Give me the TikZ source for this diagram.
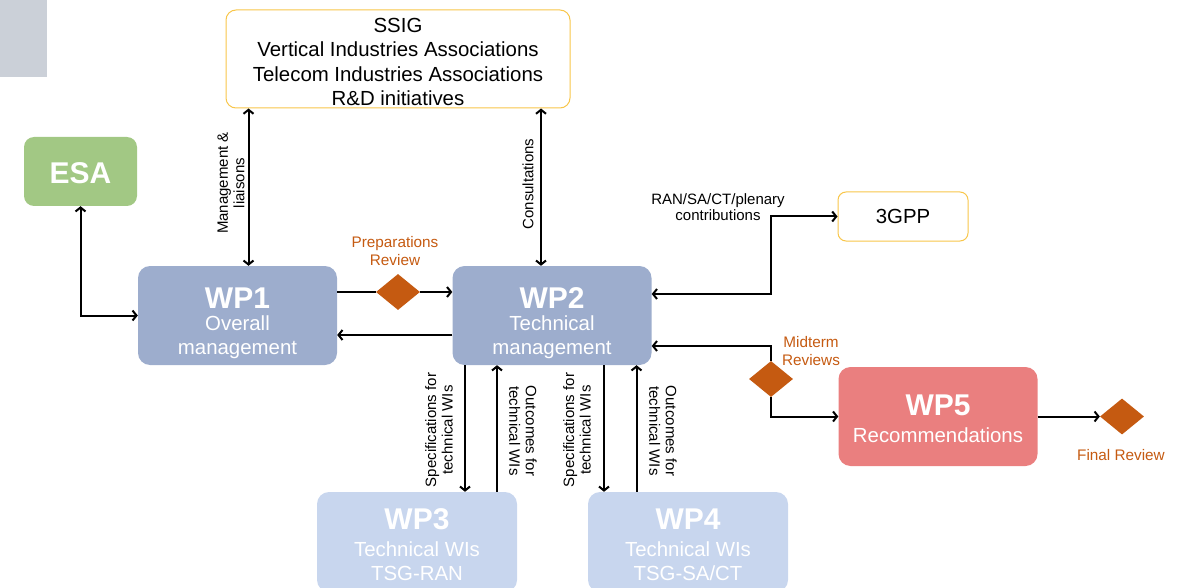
\documentclass[tikz,border=0pt]{standalone}
\usepackage{fontspec}
\setmainfont{Liberation Sans}
\usetikzlibrary{arrows.meta}
\usetikzlibrary{shapes.geometric}
\usetikzlibrary{positioning}
\definecolor{wp-blue}{RGB}{157, 173, 205}
\definecolor{wp-lightblue}{RGB}{200, 214, 238}
\definecolor{esa-green}{RGB}{162, 200, 132}
\definecolor{wp-red}{RGB}{234, 127, 127}
\definecolor{review-orange}{RGB}{197, 90, 17}
\definecolor{frame-yellow}{RGB}{248, 198, 74}
\definecolor{corner-grey}{RGB}{203, 208, 216}
\newcommand{\wpfont}{\fontsize{30}{23}\selectfont\bfseries}
\newcommand{\lift}[1]{\rule{0pt}{#1}}
\tikzset{
  wpbox/.style={rounded corners=12pt, minimum width=199pt, minimum height=99pt,
    inner sep=0pt, align=center, text=white, font=\fontsize{20.4}{24}\selectfont},
  framebox/.style={draw=frame-yellow, line width=1pt, fill=white, rounded corners=10pt,
    inner sep=0pt, align=center, font=\fontsize{20.4}{24.5}\selectfont},
  review/.style={diamond, fill=review-orange, inner sep=0pt, minimum width=44pt, minimum height=36pt},
  reviewlabel/.style={text=review-orange, align=center, font=\fontsize{15.3}{17.5}\selectfont},
  flowlabel/.style={align=center, font=\fontsize{15}{16.5}\selectfont},
  flow/.style={line width=2pt, >={Straight Barb[length=4pt,width=10pt]}}
}
\begin{document}
\begin{tikzpicture}[x=1pt, y=-1pt]
  \useasboundingbox (0, 0) rectangle (1183, 588);
  \fill[corner-grey] (0, 0) rectangle (47, 77);

  % boxes
  \node[framebox, minimum width=344pt, minimum height=98pt] (assoc) at (398, 59)
    {\lift{20pt}SSIG\\Vertical Industries Associations\\Telecom Industries Associations\\R\&D initiatives};
  \node[wpbox, fill=esa-green, minimum width=113pt, minimum height=69pt, rounded corners=10pt] (esa) at (80.5, 171.5) {\lift{25pt}\wpfont ESA};
  \node[wpbox, fill=wp-blue] (wp1) at (237.5, 315.5) {\lift{36.5pt}{\wpfont WP1}\\[-2pt]Overall\\management};
  \node[wpbox, fill=wp-blue] (wp2) at (552, 315.5) {\lift{36.5pt}{\wpfont WP2}\\[-2pt]Technical\\management};
  \node[framebox, minimum width=130pt, minimum height=49pt, rounded corners=8pt] (tgpp) at (903, 216.5) {3GPP};
  \node[wpbox, fill=wp-red] (wp5) at (938, 416.5) {\lift{25.5pt}{\wpfont WP5}\\[3pt]Recommendations};
  \node[wpbox, fill=wp-lightblue, minimum width=200pt, minimum height=100pt] (wp3) at (417, 542) {\lift{25.5pt}{\wpfont WP3}\\[3pt]Technical WIs\\TSG-RAN};
  \node[wpbox, fill=wp-lightblue, minimum width=200pt, minimum height=100pt] (wp4) at (688, 542) {\lift{25.5pt}{\wpfont WP4}\\[3pt]Technical WIs\\TSG-SA/CT};

  % reviews
  \node[review] (prep) at (398, 292) {};
  \node[review] (mid) at (771, 379) {};
  \node[review] (fin) at (1122, 416.5) {};
  \node[reviewlabel] (preplabel) at (395, 251) {Preparations\\Review};
  \node[reviewlabel] (midlabel) at (811, 351) {Midterm\\Reviews};
  \node[reviewlabel] (finlabel) at (1121, 455) {Final Review};

  % connectors
  \draw[flow, <->] (esa.south) |- (wp1.west);
  \draw[flow, <->] ([xshift=11pt]wp1.north) -- ([xshift=11pt]wp1.north |- assoc.south);
  \draw[flow, <->] ([xshift=-11pt]wp2.north) -- ([xshift=-11pt]wp2.north |- assoc.south);
  \draw[flow] (wp1.east |- prep) -- (prep.west);
  \draw[flow, ->] (prep.east) -- (wp2.west |- prep);
  \draw[flow, ->] ([yshift=-19.5pt]wp2.west) -- ([yshift=-19.5pt]wp1.east);
  \draw[flow, <->] (tgpp.west) -- ++(-67, 0) |- ([yshift=21.5pt]wp2.east);
  \draw[flow, ->] (mid.north) |- ([yshift=-30.5pt]wp2.east);
  \draw[flow, ->] (mid.south) |- (wp5.west);
  \draw[flow, ->] (wp5.east) -- (fin.west);
  \draw[flow, ->] ([xshift=48pt]wp3.north |- wp2.south) -- ([xshift=48pt]wp3.north);
  \draw[flow, ->] ([xshift=80pt]wp3.north) -- ([xshift=80pt]wp3.north |- wp2.south);
  \draw[flow, ->] ([xshift=-84pt]wp4.north |- wp2.south) -- ([xshift=-84pt]wp4.north);
  \draw[flow, ->] ([xshift=-51.5pt]wp4.north) -- ([xshift=-51.5pt]wp4.north |- wp2.south);

  % connector labels
  \node[flowlabel, rotate=90] (mgmtlabel) at (231, 183) {Management \&\\liaisons};
  \node[flowlabel, rotate=90] (consultlabel) at (528, 184) {Consultations};
  \node[flowlabel] (gpplabel) at (718, 207) {RAN/SA/CT/plenary\\contributions};
  \node[flowlabel, rotate=90] (spec3label) at (439, 430) {Specifications for\\technical WIs};
  \node[flowlabel, rotate=-90] (out3label) at (523, 431) {Outcomes for\\technical WIs};
  \node[flowlabel, rotate=90] (spec4label) at (577, 430) {Specifications for\\technical WIs};
  \node[flowlabel, rotate=-90] (out4label) at (663, 431) {Outcomes for\\technical WIs};
\end{tikzpicture}
\end{document}
